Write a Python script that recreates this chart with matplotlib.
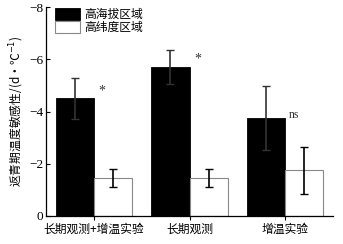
import matplotlib
matplotlib.use("Agg")
import matplotlib.pyplot as plt
import numpy as np

categories = ["长期观测+增温实验", "长期观测", "增温实验"]
high_alt = [-4.5, -5.7, -3.75]
high_alt_err = [0.78, 0.65, 1.22]
high_lat = [-1.45, -1.45, -1.75]
high_lat_err = [0.35, 0.35, 0.9]
sig = ["*", "*", "ns"]
yticks = [0, -2, -4, -6, -8]
series_names = ["高海拔区域", "高纬度区域"]

cjk = ["Noto Sans CJK SC", "DejaVu Sans"]
serif = ["Liberation Serif", "DejaVu Serif"]

fig = plt.figure(figsize=(3.43, 2.44), dpi=100)
ax = fig.add_axes([0.134, 0.115, 0.837, 0.856])

x = np.arange(1, len(categories) + 1)
w = 0.4
ax.bar(x - w / 2, high_alt, w, color="black", edgecolor="black", linewidth=0.6,
       yerr=high_alt_err, error_kw=dict(ecolor="#333333", elinewidth=1.2, capsize=3, capthick=1.0),
       label=series_names[0])
ax.bar(x + w / 2, high_lat, w, color="white", edgecolor="#888888", linewidth=0.8,
       yerr=high_lat_err, error_kw=dict(ecolor="black", elinewidth=1.2, capsize=3, capthick=1.0),
       label=series_names[1])

for xi, v, s in zip(x, high_alt, sig):
    if s == "*":
        ax.text(xi + 0.05, v - 0.3, s, ha="left", va="center", fontsize=10,
                family=serif, color="#333333")
    else:
        ax.text(xi + 0.04, v - 0.12, s, ha="left", va="center", fontsize=8.5,
                family=serif, color="#333333")

ax.set_xlim(0.5, 3.5)
ax.set_ylim(0, -8)
ax.set_yticks(yticks)
ax.set_yticklabels([str(t).replace("-", "−") for t in yticks], family=serif, fontsize=9.5)
ax.set_xticks(x)
ax.set_xticklabels(categories, family=cjk, fontsize=8.5)
ax.tick_params(axis="y", direction="in", length=3, width=0.8, pad=2)
ax.tick_params(axis="x", direction="out", length=3, width=0.8, pad=2)
ax.spines["top"].set_visible(False)
ax.spines["right"].set_visible(False)
for s in ["left", "bottom"]:
    ax.spines[s].set_linewidth(0.9)

ax.set_ylabel("返青期温度敏感性/(d·℃$^{-1}$)", family=cjk, fontsize=8.5, labelpad=2)

leg = ax.legend(loc="upper left", bbox_to_anchor=(0.031, 0.995), frameon=False,
                prop={"family": cjk, "size": 8.5}, handlelength=2.1, handleheight=1.15,
                labelspacing=0.0, handletextpad=0.4, borderaxespad=0.0, borderpad=0.0)

fig.savefig("out.png", dpi=100)
